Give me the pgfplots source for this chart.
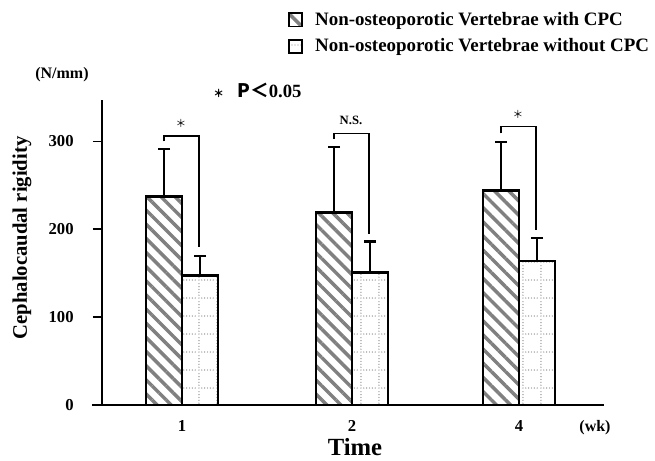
\documentclass[border=0pt]{standalone}
\usepackage{fontspec}
\setmainfont{Liberation Serif}
\newfontfamily\cjk{Noto Sans CJK SC}
\usepackage{pgfplots}
\usepackage{pgfplotstable}
\pgfplotsset{compat=1.18}
\usetikzlibrary{patterns,patterns.meta}

% dotted grid fill for the "without CPC" bars
\pgfdeclarepatternformonly{dotgrid}{\pgfqpoint{0pt}{0pt}}{\pgfqpoint{13.5pt}{13.5pt}}{\pgfqpoint{13.5pt}{13.5pt}}{%
  \foreach \i in {0,...,5}{%
    \pgfpathcircle{\pgfpoint{0.75pt+\i*2.25pt}{0.75pt}}{0.55pt}%
    \pgfpathcircle{\pgfpoint{0.75pt}{0.75pt+\i*2.25pt}}{0.55pt}%
  }%
  \pgfusepath{fill}%
}

\pgfplotstableread{
x   y    err
164 237  54
334 219  75
501 244  55
}\withcpc
\pgfplotstableread{
x   y    err
200 147  23
370 151  35
537 164  26
}\withoutcpc

\pgfplotsset{
  errstyle/.style={forget plot, draw=none, mark=none,
    error bars/.cd, y dir=plus, y explicit,
    error bar style={line width=1.3pt, draw=black, solid},
    error mark=none},
  capstyle/.style={forget plot, only marks, mark=-, mark size=4.5pt,
    mark options={line width=1.6pt, draw=black, solid}},
}

\begin{document}
\begin{tikzpicture}[font=\bfseries]
\begin{axis}[
  at={(0,0)}, anchor=south west,
  scale only axis, width=376.5pt, height=228.75pt,
  xmin=102, xmax=604, ymin=0, ymax=347,
  axis x line=bottom, axis y line=left,
  axis line style={-, line width=1.5pt},
  xtick={182,352,519}, xticklabels={1,2,4},
  ytick={0,100,200,300},
  x tick style={draw=none},
  y tick style={line width=1.2pt, black},
  tick align=outside, major tick length=6.75pt,
  xticklabel style={font=\fontsize{12.5}{14}\selectfont\bfseries, anchor=north, yshift=-1pt},
  yticklabel style={font=\fontsize{12.5}{14}\selectfont\bfseries, xshift=-11pt},
  /pgf/number format/assume math mode=true,
  clip=false,
  legend style={at={(0.3705,1.297)}, anchor=north west, draw=none, fill=none,
    font=\fontsize{14.2}{16}\selectfont\bfseries, row sep=4.5pt, inner sep=0pt,
    /tikz/every odd column/.append style={column sep=7pt}},
  legend cell align=left,
  legend image code/.code={\draw[#1, draw=black, line width=1.4pt] (0pt,-4.9pt) rectangle (9.8pt,4.9pt);},
]
\addplot[ybar, bar width=36, bar shift=0, draw=black, line width=2pt,
  pattern={Lines[angle=-45, distance=7.5pt, line width=2.6pt]}, pattern color=black!50]
  table[x=x, y=y] {\withcpc};
\addlegendentry{Non-osteoporotic Vertebrae with CPC}
\addplot[ybar, bar width=36, bar shift=0, draw=black, line width=2pt,
  pattern=dotgrid, pattern color=black!45]
  table[x=x, y=y] {\withoutcpc};
\addlegendentry{Non-osteoporotic Vertebrae without CPC}
% error bars (upper only) and their caps
\addplot[errstyle] table[x=x, y=y, y error=err] {\withcpc};
\addplot[errstyle] table[x=x, y=y, y error=err] {\withoutcpc};
\addplot[capstyle] table[x=x, y expr=\thisrow{y}+\thisrow{err}] {\withcpc};
\addplot[capstyle] table[x=x, y expr=\thisrow{y}+\thisrow{err}] {\withoutcpc};

% significance brackets
\draw[line width=0.8pt] (axis cs:164,300) -- (axis cs:164,306) -- (axis cs:199,306) -- (axis cs:199,180);
\draw[line width=0.8pt] (axis cs:334,303) -- (axis cs:334,309) -- (axis cs:369,309) -- (axis cs:369,195);
\draw[line width=0.8pt] (axis cs:501,309) -- (axis cs:501,317) -- (axis cs:536,317) -- (axis cs:536,199);
\node[font=\cjk\fontsize{8}{9}\selectfont] at (axis cs:181,320) {＊};
\node[font=\fontsize{9.5}{11}\selectfont\bfseries] at (axis cs:351,324) {N.S.};
\node[font=\cjk\fontsize{8}{9}\selectfont] at (axis cs:518,330) {＊};
% x axis line runs a little past the y axis
\draw[line width=1.5pt] (axis cs:92,0) -- (axis cs:102,0);
\end{axis}
\node at (-30pt,247.5pt) {\fontsize{12}{14}\selectfont\bfseries (N/mm)};
\node[anchor=west] at (80pt,236.25pt) {{\cjk\fontsize{8}{9}\selectfont ＊}\hspace{10pt}{\cjk\fontsize{14}{16}\selectfont P＜}\fontsize{14}{16}\selectfont\bfseries 0.05};
\node[rotate=90] at (-60pt,125.25pt) {\fontsize{15.5}{18}\selectfont\bfseries Cephalocaudal rigidity};
\node at (189.75pt,-31.5pt) {\fontsize{18.5}{21}\selectfont\bfseries Time};
\node at (369.75pt,-17.25pt) {\fontsize{12}{14}\selectfont\bfseries (wk)};
\pgfresetboundingbox
\useasboundingbox (-76.5pt,-41.25pt) rectangle (414.75pt,303.75pt);
\end{tikzpicture}
\end{document}
